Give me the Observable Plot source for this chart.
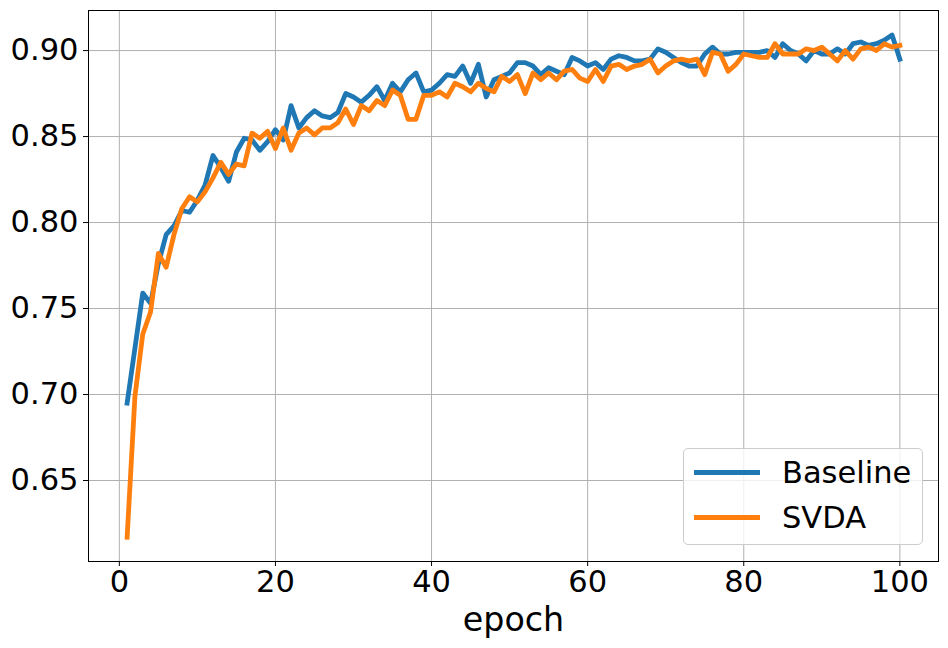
<!DOCTYPE html>
<html>
<head>
<meta charset="utf-8">
<script src="https://cdn.jsdelivr.net/npm/d3@7"></script>
<script src="https://cdn.jsdelivr.net/npm/@observablehq/plot@0.6"></script>
<style>
  html, body { margin: 0; padding: 0; background: #fff; }
  #wrap { position: relative; width: 948px; height: 648px; font-family: "DejaVu Sans", sans-serif; }
  #legend {
    position: absolute; left: 683px; top: 448px; width: 238px; height: 95px;
    border: 1px solid #cccccc; border-radius: 5px; background: rgba(255,255,255,0.8);
    box-sizing: content-box;
  }
  .item { position: absolute; left: 0; height: 40px; width: 100%; }
  .sw { position: absolute; left: 10px; width: 66px; height: 5px; }
  .lab { position: absolute; left: 98px; font-size: 30.5px; line-height: 40px; color: #000; white-space: nowrap; }
</style>
</head>
<body>
<div id="wrap"></div>
<script>
const epochs = d3.range(1, 101);
const baseline = [
  0.695, 0.727, 0.759, 0.753, 0.776, 0.793, 0.798, 0.807, 0.806, 0.813,
  0.822, 0.839, 0.832, 0.824, 0.841, 0.849, 0.848, 0.842, 0.847, 0.854,
  0.848, 0.868, 0.855, 0.861, 0.865, 0.862, 0.861, 0.864, 0.875, 0.873,
  0.870, 0.874, 0.879, 0.871, 0.881, 0.876, 0.883, 0.887, 0.876, 0.877,
  0.881, 0.886, 0.885, 0.891, 0.881, 0.892, 0.873, 0.883, 0.885, 0.887,
  0.893, 0.893, 0.891, 0.886, 0.890, 0.888, 0.886, 0.896, 0.894, 0.891,
  0.893, 0.889, 0.895, 0.897, 0.896, 0.894, 0.894, 0.895, 0.901, 0.899,
  0.896, 0.893, 0.891, 0.891, 0.898, 0.902, 0.898, 0.898, 0.899, 0.899,
  0.899, 0.899, 0.900, 0.896, 0.904, 0.900, 0.898, 0.894, 0.900, 0.898,
  0.898, 0.901, 0.898, 0.904, 0.905, 0.903, 0.904, 0.906, 0.909, 0.895
];
const svda = [
  0.617, 0.699, 0.735, 0.748, 0.782, 0.774, 0.793, 0.808, 0.815, 0.812,
  0.818, 0.826, 0.835, 0.828, 0.834, 0.833, 0.852, 0.849, 0.853, 0.843,
  0.855, 0.842, 0.852, 0.855, 0.851, 0.855, 0.855, 0.858, 0.866, 0.857,
  0.868, 0.865, 0.871, 0.868, 0.877, 0.874, 0.860, 0.860, 0.874, 0.874,
  0.876, 0.873, 0.881, 0.879, 0.876, 0.881, 0.878, 0.876, 0.885, 0.882,
  0.886, 0.875, 0.887, 0.883, 0.887, 0.883, 0.888, 0.889, 0.884, 0.882,
  0.889, 0.882, 0.891, 0.892, 0.889, 0.891, 0.892, 0.895, 0.887, 0.891,
  0.894, 0.895, 0.894, 0.895, 0.886, 0.899, 0.898, 0.888, 0.892, 0.898,
  0.897, 0.896, 0.896, 0.904, 0.898, 0.898, 0.898, 0.901, 0.900, 0.902,
  0.898, 0.894, 0.900, 0.895, 0.901, 0.902, 0.900, 0.904, 0.902, 0.903
];
const seriesNames = ["Baseline", "SVDA"];
const seriesColors = ["#1f77b4", "#ff7f0e"];
const xTicks = [0, 20, 40, 60, 80, 100];
const yTicks = [0.65, 0.70, 0.75, 0.80, 0.85, 0.90];
const xLabel = "epoch";

const rows = [];
[baseline, svda].forEach((vals, s) => {
  vals.forEach((v, i) => rows.push({epoch: epochs[i], acc: v, series: seriesNames[s]}));
});

const fs = 30.5;
const chart = Plot.plot({
  width: 948,
  height: 648,
  marginLeft: 88,
  marginRight: 10,
  marginTop: 10,
  marginBottom: 87,
  style: {fontFamily: "DejaVu Sans, sans-serif", fontSize: fs + "px", background: "white", color: "black"},
  x: {domain: [-3.95, 104.95]},
  y: {domain: [0.6029, 0.9233]},
  color: {domain: seriesNames, range: seriesColors},
  marks: [
    Plot.gridX(xTicks, {stroke: "#b0b0b0", strokeOpacity: 1, strokeWidth: 1}),
    Plot.gridY(yTicks, {stroke: "#b0b0b0", strokeOpacity: 1, strokeWidth: 1}),
    Plot.line(rows, {x: "epoch", y: "acc", z: "series", stroke: "series", strokeWidth: 4.8, strokeLinejoin: "round", strokeLinecap: "square"}),
    Plot.frame({stroke: "black", strokeWidth: 1}),
    Plot.axisX(xTicks, {tickSize: 5, tickPadding: 4, fontSize: fs, label: null, tickFormat: d => String(d)}),
    Plot.axisY(yTicks, {tickSize: 5, tickPadding: 5, fontSize: fs, label: null, tickFormat: d3.format(".2f")}),
    Plot.text([xLabel], {frameAnchor: "bottom", dy: 59, fontSize: 33.3, lineAnchor: "middle", fill: "black"})
  ]
});

const wrap = document.getElementById("wrap");
wrap.appendChild(chart);

const legend = document.createElement("div");
legend.id = "legend";
seriesNames.forEach((name, i) => {
  const item = document.createElement("div");
  item.className = "item";
  item.style.top = (i === 0 ? 4 : 49) + "px";
  const sw = document.createElement("div");
  sw.className = "sw";
  sw.style.top = "17px";
  sw.style.background = seriesColors[i];
  const lab = document.createElement("div");
  lab.className = "lab";
  lab.textContent = name;
  item.appendChild(sw);
  item.appendChild(lab);
  legend.appendChild(item);
});
wrap.appendChild(legend);
</script>
</body>
</html>
